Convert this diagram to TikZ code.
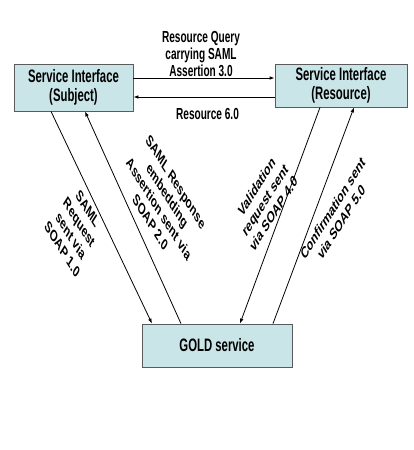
\documentclass[tikz,border=0pt]{standalone}
\usepackage{fontspec}
\newfontfamily\narrowfont[FakeStretch=0.63]{Liberation Sans}
\newfontfamily\plainfont{Liberation Sans}
\usetikzlibrary{arrows.meta}
\definecolor{boxfill}{RGB}{202,229,231}
\definecolor{boxline}{RGB}{90,90,90}
\tikzset{
  box/.style={draw=boxline, fill=boxfill, line width=0.8pt, inner sep=0pt, align=center,
    font=\narrowfont\bfseries\fontsize{18}{18.5}\selectfont},
  lab/.style={inner sep=0pt, align=center, font=\narrowfont\bfseries\fontsize{16}{17}\selectfont},
  rlab/.style={transform shape, inner sep=0pt, align=center, font=\plainfont\bfseries\fontsize{16}{19}\selectfont},
  arr/.style={draw=black, line width=0.8pt, -{Latex[length=5pt,width=3.6pt]}}
}
\begin{document}
\begin{tikzpicture}[x=1pt,y=-1pt]
\useasboundingbox (0,0) rectangle (414,450);
\node[box, minimum width=119pt, minimum height=47pt] (subj) at (73.5,87.5) {Service Interface\\(Subject)};
\node[box, minimum width=132pt, minimum height=43pt] (res) at (341,85.5) {Service Interface\\(Resource)};
\node[box, minimum width=150pt, minimum height=43pt] (gold) at (217,345.5) {GOLD service};
\coordinate (ytop) at (0,78);
\coordinate (ybot) at (0,97);
\draw[arr] (subj.east |- ytop) -- (res.west |- ytop);
\draw[arr] (res.west |- ybot) -- (subj.east |- ybot);
\draw[arr] (subj.south -| 51,0) -- (gold.north -| 152,0);
\draw[arr] (gold.north -| 181,0) -- (subj.south -| 85,0);
\draw[arr] (res.south -| 320,0) -- (gold.north -| 240,0);
\draw[arr] (gold.north -| 273,0) -- (res.south -| 354,0);
\node[lab] (qlab) at (201,54) {Resource Query\\carrying SAML\\Assertion 3.0};
\node[lab] (rlab6) at (207.5,114) {Resource 6.0};
\node[rlab, shift={(163,202)}, xscale=0.63, rotate=-45] (la) at (0,0) {SAML Response\\embedding\\Assertion sent via\\SOAP 2.0};
\node[rlab, shift={(75,229)}, xscale=0.63, rotate=-45] (lb) at (0,0) {SAML\\Request\\sent via\\SOAP 1.0};
\node[rlab, shift={(265,200)}, xscale=0.63, rotate=45] (lc) at (0,0) {Validation\\request sent\\via SOAP 4.0};
\node[rlab, shift={(337,215)}, xscale=0.63, rotate=45] (ld) at (0,0) {Confirmation sent\\via SOAP 5.0};
\end{tikzpicture}
\end{document}
